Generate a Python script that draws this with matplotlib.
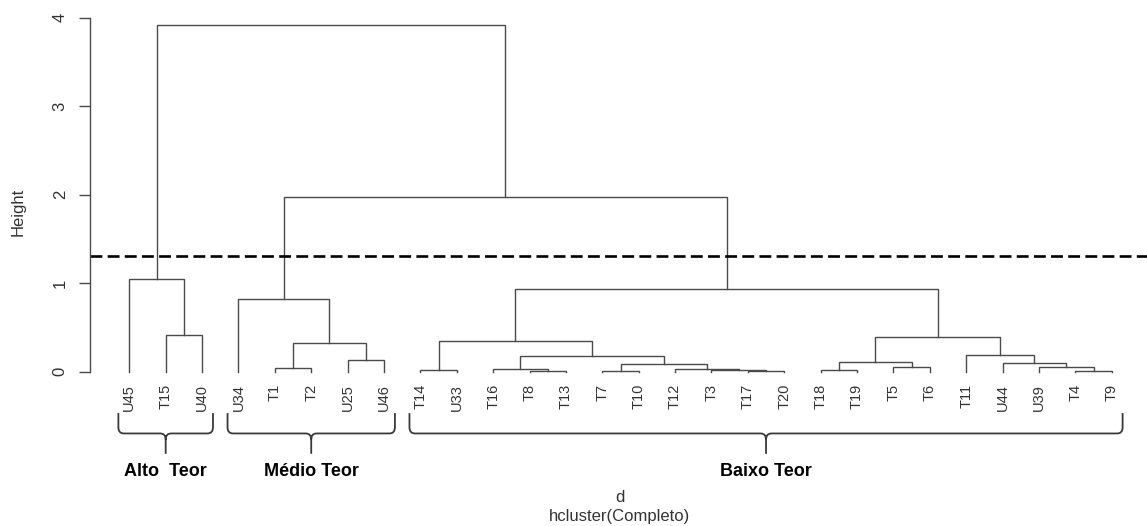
import matplotlib
matplotlib.use("Agg")
import matplotlib.pyplot as plt
from matplotlib.path import Path
from matplotlib.patches import PathPatch

plt.rcParams['font.family'] = ['Liberation Sans', 'DejaVu Sans']

# leaf order as drawn
leaves = ['U45', 'T15', 'U40', 'U34', 'T1', 'T2', 'U25', 'U46',
          'T14', 'U33', 'T16', 'T8', 'T13', 'T7', 'T10', 'T12', 'T3', 'T17', 'T20',
          'T18', 'T19', 'T5', 'T6', 'T11', 'U44', 'U39', 'T4', 'T9']

# merges: (left, right, height); ints refer to earlier merges
merges = [
    ('T17', 'T20', 0.003),   # 0
    ('T3', 0, 0.012),        # 1
    ('T12', 1, 0.03),        # 2
    ('T7', 'T10', 0.003),    # 3
    (3, 2, 0.09),            # 4
    ('T8', 'T13', 0.004),    # 5
    ('T16', 5, 0.03),        # 6
    (6, 4, 0.17),            # 7
    ('T14', 'U33', 0.02),    # 8
    (8, 7, 0.35),            # 9
    ('T18', 'T19', 0.02),    # 10
    ('T5', 'T6', 0.05),      # 11
    (10, 11, 0.11),          # 12
    ('T4', 'T9', 0.01),      # 13
    ('U39', 13, 0.05),       # 14
    ('U44', 14, 0.10),       # 15
    ('T11', 15, 0.19),       # 16
    (12, 16, 0.39),          # 17
    (9, 17, 0.93),           # 18
    ('T1', 'T2', 0.04),      # 19
    ('U25', 'U46', 0.13),    # 20
    (19, 20, 0.32),          # 21
    ('U34', 21, 0.82),       # 22
    (22, 18, 1.97),          # 23
    ('T15', 'U40', 0.41),    # 24
    ('U45', 24, 1.04),       # 25
    (25, 23, 3.92),          # 26
]

cut_height = 1.31

groups = ['Alto  Teor', 'Médio Teor', 'Baixo Teor']
group_members = [['U45', 'U40'], ['U34', 'U46'], ['T14', 'T9']]

W, H = 1147, 526
fig = plt.figure(figsize=(W / 100, H / 100), dpi=100)
ax = fig.add_axes([90 / W, (H - 385.4) / H, (1151 - 90) / W, (385.4 - 10.7) / H])
ax.set_xlim(-0.08, 29.08)
ax.set_ylim(-0.157, 4.077)

line_col = '#4a4a4a'
pos = {name: i + 1 for i, name in enumerate(leaves)}
node_x, node_h = [], []


def get(n):
    if isinstance(n, str):
        return pos[n], 0.0
    return node_x[n], node_h[n]


for left, right, h in merges:
    x1, h1 = get(left)
    x2, h2 = get(right)
    ax.plot([x1, x1, x2, x2], [h1, h, h, h2], color=line_col, lw=1.0,
            solid_joinstyle='miter')
    node_x.append((x1 + x2) / 2)
    node_h.append(h)

ax.axhline(cut_height, color='black', lw=1.9, linestyle=(0, (4.5, 2)))

for name in leaves:
    ax.annotate(name, (pos[name], 0), xytext=(0, -9), textcoords='offset points',
                rotation=90, ha='center', va='top', fontsize=10.5, color='#333333',
                annotation_clip=False)

# braces under each group
top, mid, tip = -0.47, -0.70, -0.93
dx, dy = 0.15, 0.07
for label, (a, b) in zip(groups, group_members):
    x0 = pos[a] - 0.3
    x1 = pos[b] + 0.3
    xc = (x0 + x1) / 2
    verts = [(x0, top), (x0, mid + dy), (x0, mid), (x0 + dx, mid),
             (xc - dx, mid), (xc, mid), (xc, mid - dy), (xc, tip),
             (xc, mid - dy), (xc, mid), (xc + dx, mid),
             (x1 - dx, mid), (x1, mid), (x1, mid + dy), (x1, top)]
    codes = [Path.MOVETO, Path.LINETO, Path.CURVE3, Path.CURVE3,
             Path.LINETO, Path.CURVE3, Path.CURVE3, Path.LINETO,
             Path.MOVETO, Path.CURVE3, Path.CURVE3,
             Path.LINETO, Path.CURVE3, Path.CURVE3, Path.LINETO]
    ax.add_patch(PathPatch(Path(verts, codes), fill=False, edgecolor='#3a3a3a',
                           lw=1.3, clip_on=False))
    ax.text(xc, tip - 0.2, label, ha='center', va='center', fontsize=13,
            fontweight='bold', color='black', clip_on=False)

for s in ['top', 'right', 'bottom']:
    ax.spines[s].set_visible(False)
ax.spines['left'].set_bounds(0, 4)
ax.spines['left'].set_color('#4a4a4a')
ax.spines['left'].set_linewidth(1.0)
ax.set_xticks([])
ax.set_yticks([0, 1, 2, 3, 4])
ax.set_yticklabels(['0', '1', '2', '3', '4'], rotation=90, va='center')
ax.tick_params(axis='y', length=8, width=1.0, color='#4a4a4a', pad=8,
               labelsize=12, labelcolor='#333333')

fig.text(18 / W, 1 - 212 / H, 'Height', rotation=90, ha='center', va='center',
         fontsize=12, color='#333333')
fig.text(620 / W, 1 - 497 / H, 'd', ha='center', va='center', fontsize=12,
         color='#333333')
fig.text(620 / W, 1 - 517 / H, 'hcluster(Completo)', ha='center', va='center',
         fontsize=12, color='#333333')

fig.savefig('out.png', dpi=100)
